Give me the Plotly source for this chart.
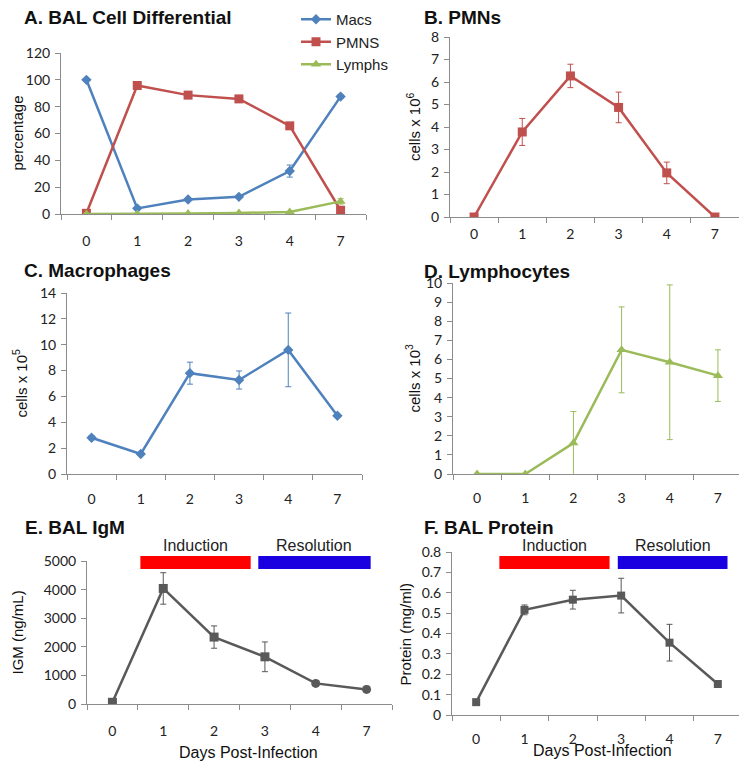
import plotly.graph_objects as go

W, H = 747, 761
OFF = 8  # page body margin offset (screen px)

days = ["0", "1", "2", "3", "4", "7"]

# Panel A: BAL cell differential (percentage)
macs_pct = [100, 4.2, 10.8, 12.8, 32, 87.5]
macs_pct_err = [0, 0.8, 1.0, 1.0, 4.5, 1.2]
pmns_pct = [0.5, 95.8, 88.6, 85.8, 65.7, 2.8]
pmns_pct_err = [0, 1.0, 1.0, 1.2, 2.0, 1.5]
lymph_pct = [0, 0, 0.3, 0.8, 1.5, 9.4]
lymph_pct_err = [0, 0, 0.2, 0.3, 0.5, 2.0]

# Panel B: PMNs (cells x 10^6)
pmn_cells = [0, 3.78, 6.27, 4.87, 1.96, 0]
pmn_cells_err = [0, 0.6, 0.52, 0.68, 0.48, 0]

# Panel C: Macrophages (cells x 10^5)
mac_cells = [2.8, 1.55, 7.8, 7.27, 9.6, 4.5]
mac_cells_err = [0.15, 0.1, 0.85, 0.7, 2.85, 0.1]

# Panel D: Lymphocytes (cells x 10^3)
lym_cells = [0, 0, 1.62, 6.5, 5.85, 5.15]
lym_cells_err = [0, 0, 1.65, 2.25, 4.05, 1.35]

# Panel E: BAL IgM (ng/mL)
igm = [60, 4040, 2340, 1650, 720, 510]
igm_err = [30, 550, 390, 520, 90, 110]
igm_symbols = ["square", "square", "square", "square", "circle", "circle"]

# Panel F: BAL protein (mg/ml)
protein = [0.063, 0.516, 0.566, 0.586, 0.355, 0.152]
protein_err = [0.006, 0.024, 0.046, 0.085, 0.09, 0.016]

# Phase bars (category units)
phases = ["Induction", "Resolution"]
phase_colors = ["#ff0000", "#1a00e0"]
phase_E = [(0.55, 2.72), (2.87, 5.08)]
phase_F = [(0.48, 2.76), (2.93, 5.2)]

BLUE = "#4f81bd"
RED = "#c0504d"
GREEN = "#9bbb59"
GRAY = "#595959"

TICKFONT = dict(family="Lato", size=14, color="#222222")
TITLEFONT = dict(family="Liberation Sans", size=15, color="#111111")


def fx(px):
    return (px - OFF) / W


def fy(py):
    return 1 - (py - OFF) / H


# panel pixel boxes (screen px): (left, right, top, bottom)
boxes = {
    1: (61, 366, 53, 214),
    2: (450, 739, 37, 217),
    3: (67, 362, 293, 474),
    4: (453, 742, 283, 474),
    5: (87, 392, 561, 704),
    6: (452, 742, 552, 715),
}

fig = go.Figure()


def add_line(k, y, err, color, symbol, size, name=None, showlegend=False):
    fig.add_trace(go.Scatter(
        x=days, y=y, mode="lines+markers", name=name, showlegend=showlegend,
        xaxis="x" if k == 1 else f"x{k}", yaxis="y" if k == 1 else f"y{k}",
        line=dict(color=color, width=2.5),
        marker=dict(symbol=symbol, size=size, color=color),
        error_y=dict(type="data", array=err, color=color, thickness=1, width=3),
    ))


add_line(1, macs_pct, macs_pct_err, BLUE, "diamond", 8, "Macs", True)
add_line(1, pmns_pct, pmns_pct_err, RED, "square", 9, "PMNS", True)
add_line(1, lymph_pct, lymph_pct_err, GREEN, "triangle-up", 9, "Lymphs", True)
add_line(2, pmn_cells, pmn_cells_err, RED, "square", 9)
add_line(3, mac_cells, mac_cells_err, BLUE, "diamond", 8)
add_line(4, lym_cells, lym_cells_err, GREEN, "triangle-up", 9)
add_line(5, igm, igm_err, GRAY, igm_symbols, 9)
add_line(6, protein, protein_err, GRAY, "square", 8)

yspecs = {
    1: dict(range=[0, 120], dtick=20, title="percentage", tx=17),
    2: dict(range=[0, 8], dtick=1, title="cells x 10<sup>6</sup>", tx=413),
    3: dict(range=[0, 14], dtick=2, title="cells x 10<sup>5</sup>", tx=20),
    4: dict(range=[0, 10], dtick=1, title="cells x 10<sup>3</sup>", tx=413),
    5: dict(range=[0, 5000], dtick=1000, title="IGM (ng/mL)", tx=17),
    6: dict(range=[0, 0.8], dtick=0.1, title="Protein (mg/ml)", tx=405),
}
xstandoff = {1: 14, 2: 4, 3: 12, 4: 11, 5: 14, 6: 11}

layout = dict(
    width=W, height=H, margin=dict(l=0, r=0, t=0, b=0, autoexpand=False),
    paper_bgcolor="white", plot_bgcolor="white",
    legend=dict(x=fx(296), y=fy(3), xanchor="left", yanchor="top",
                bgcolor="rgba(0,0,0,0)", font=dict(family="Liberation Sans", size=15, color="#222"),
                itemwidth=30, tracegroupgap=0),
    shapes=[], annotations=[],
)

for k, (l, r, t, b) in boxes.items():
    xs = "xaxis" if k == 1 else f"xaxis{k}"
    ys = "yaxis" if k == 1 else f"yaxis{k}"
    xid = "x" if k == 1 else f"x{k}"
    yid = "y" if k == 1 else f"y{k}"
    layout[xs] = dict(
        domain=[fx(l), fx(r)], anchor=yid, type="category", range=[-0.5, 5.5],
        showline=True, linecolor="#8c8c8c", linewidth=1, ticks="outside",
        tickson="boundaries", ticklen=5, tickcolor="#8c8c8c", showgrid=False,
        tickfont=TICKFONT, zeroline=False, ticklabelstandoff=xstandoff[k],
        automargin=False,
    )
    spec = yspecs[k]
    layout[ys] = dict(
        domain=[fy(b), fy(t)], anchor=xid, range=spec["range"], dtick=spec["dtick"],
        showline=True, linecolor="#8c8c8c", linewidth=1, ticks="outside", ticklen=5,
        tickcolor="#8c8c8c", showgrid=False, zeroline=False, tickfont=TICKFONT,
        automargin=False, ticklabelstandoff=2,
    )
    layout["annotations"].append(dict(
        text=spec["title"], xref="paper", yref="paper", x=fx(spec["tx"]),
        y=fy((t + b) / 2), xanchor="center", yanchor="middle", textangle=-90,
        showarrow=False, font=TITLEFONT,
    ))

for cx, cy in [(248, 752), (602, 750)]:
    layout["annotations"].append(dict(
        text="Days Post-Infection", xref="paper", yref="paper", x=fx(cx), y=fy(cy),
        xanchor="center", yanchor="middle", showarrow=False,
        font=dict(family="Liberation Sans", size=16, color="#111"),
    ))

panel_titles = [
    ("A. BAL Cell Differential", 22, 18),
    ("B. PMNs", 422, 18),
    ("C. Macrophages", 22, 270),
    ("D. Lymphocytes", 422, 271),
    ("E. BAL IgM", 23, 527),
    ("F. BAL Protein", 422, 527),
]
for txt, px, py in panel_titles:
    layout["annotations"].append(dict(
        text=f"<b>{txt}</b>", xref="paper", yref="paper", x=fx(px), y=fy(py),
        xanchor="left", yanchor="middle", showarrow=False,
        font=dict(family="Liberation Sans", size=19, color="#111"),
    ))

# phase bars
for k, ph, (bot, top) in [(5, phase_E, (0.944, 1.035)), (6, phase_F, (0.896, 0.975))]:
    for name, color, (x0, x1) in zip(phases, phase_colors, ph):
        xd0 = (x0 + 0.5) / 6
        xd1 = (x1 + 0.5) / 6
        layout["shapes"].append(dict(
            type="rect", xref=f"x{k} domain", yref=f"y{k} domain",
            x0=xd0, x1=xd1, y0=bot, y1=top, fillcolor=color, line=dict(width=0),
        ))
        layout["annotations"].append(dict(
            text=name, xref=f"x{k} domain", yref=f"y{k} domain",
            x=(xd0 + xd1) / 2, y=top, xanchor="center", yanchor="bottom", yshift=0,
            showarrow=False, font=dict(family="Liberation Sans", size=16, color="#222"),
        ))

fig.update_layout(**layout)
fig.write_html("out.html")
